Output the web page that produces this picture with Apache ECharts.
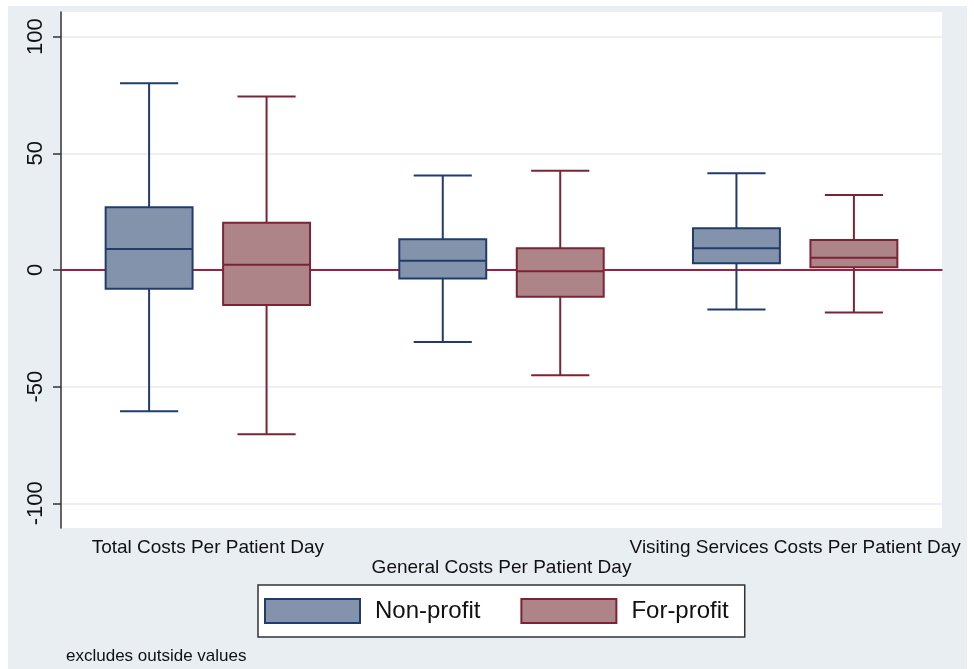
<!DOCTYPE html>
<html>
<head>
<meta charset="utf-8">
<script src="https://cdn.jsdelivr.net/npm/echarts@6/dist/echarts.min.js"></script>
<style>
html, body { margin: 0; padding: 0; background: #fff; }
#chart { width: 974px; height: 669px; }
</style>
</head>
<body>
<div id="chart"></div>
<script>
// categories on the x axis
const categories = [
    "Total Costs Per Patient Day",
    "General Costs Per Patient Day",
    "Visiting Services Costs Per Patient Day"
];
// box values: [min, Q1, median, Q3, max]
const nonProfit = [
    [-60.5, -8.0, 9.0, 26.9, 80.1],
    [-30.9, -3.6, 4.0, 13.2, 40.5],
    [-16.9, 2.9, 9.3, 17.9, 41.5]
];
const forProfit = [
    [-70.4, -15.0, 2.3, 20.3, 74.4],
    [-45.1, -11.5, -0.5, 9.3, 42.5],
    [-18.2, 1.2, 5.3, 12.9, 32.2]
];
const yTicks = [-100, -50, 0, 50, 100];

const FONT = "'Liberation Sans', Arial, sans-serif";
const NP_FILL = "#8393ab", NP_LINE = "#213c6b";
const FP_FILL = "#ad8488", FP_LINE = "#7c2434";

// 画箱线（偏移量按类目带宽的比例）
function boxRenderer(offset, fill, stroke) {
    return function (params, api) {
        let idx = api.value(0);
        let band = api.size([1, 0])[0];
        let cx = api.coord([idx, 0])[0] + offset * band;
        let half = band * 0.148;
        let cap = band * 0.099;
        let y = (i) => api.coord([idx, api.value(i)])[1];
        let yMin = y(1), yQ1 = y(2), yMed = y(3), yQ3 = y(4), yMax = y(5);
        let line = { stroke: stroke, lineWidth: 2 };
        return {
            type: "group",
            children: [
                { type: "line", shape: { x1: cx, y1: yMax, x2: cx, y2: yQ3 }, style: line },
                { type: "line", shape: { x1: cx, y1: yQ1, x2: cx, y2: yMin }, style: line },
                { type: "line", shape: { x1: cx - cap, y1: yMax, x2: cx + cap, y2: yMax }, style: line },
                { type: "line", shape: { x1: cx - cap, y1: yMin, x2: cx + cap, y2: yMin }, style: line },
                {
                    type: "rect",
                    shape: { x: cx - half, y: yQ3, width: half * 2, height: yQ1 - yQ3 },
                    style: { fill: fill, stroke: stroke, lineWidth: 2 }
                },
                { type: "line", shape: { x1: cx - half, y1: yMed, x2: cx + half, y2: yMed }, style: line }
            ]
        };
    };
}

function toData(list) {
    return list.map((v, i) => [i].concat(v));
}

let myChart = echarts.init(document.getElementById("chart"));
myChart.setOption({
    backgroundColor: "#fff",
    animation: false,
    textStyle: { fontFamily: FONT },
    graphic: [
        {
            type: "rect",
            z: -10,
            shape: { x: 8, y: 6, width: 959, height: 663 },
            style: { fill: "#e9eef3" }
        }
    ],
    title: {
        text: "excludes outside values",
        left: 66,
        top: 648,
        padding: 0,
        textStyle: { fontSize: 17, fontWeight: "normal", color: "#111", fontFamily: FONT }
    },
    grid: {
        left: 61,
        right: 32,
        top: 12,
        bottom: 141,
        show: true,
        backgroundColor: "#fff",
        borderWidth: 0
    },
    legend: {
        left: 258,
        top: 585,
        itemWidth: 95,
        itemHeight: 24,
        itemGap: 40,
        padding: [13, 16, 13, 6],
        borderColor: "#333",
        borderWidth: 1.5,
        backgroundColor: "#fff",
        textStyle: { fontSize: 24, color: "#111", fontFamily: FONT, padding: [0, 0, 0, 10] },
        data: [
            { name: "Non-profit", icon: "rect", itemStyle: { color: NP_FILL, borderColor: NP_LINE, borderWidth: 2 } },
            { name: "For-profit", icon: "rect", itemStyle: { color: FP_FILL, borderColor: FP_LINE, borderWidth: 2 } }
        ]
    },
    xAxis: {
        type: "category",
        data: categories,
        axisTick: { show: false },
        axisLine: { lineStyle: { color: "#333", width: 1.5 } },
        axisLabel: {
            interval: 0,
            fontSize: 19,
            color: "#111",
            margin: 10,
            lineHeight: 20,
            fontFamily: FONT,
            formatter: (v, i) => (i === 1 ? "\n" + v : v)
        }
    },
    yAxis: {
        type: "value",
        min: -110.6,
        max: 110.6,
        axisLine: { show: true, lineStyle: { color: "#333", width: 1.5 } },
        axisTick: { show: true, customValues: yTicks, length: 8, lineStyle: { color: "#333", width: 1.5 } },
        axisLabel: { customValues: yTicks, rotate: 90, fontSize: 22, color: "#111", margin: 14, fontFamily: FONT },
        splitLine: { show: true, lineStyle: { color: "#e6eaf0", width: 1.5 } }
    },
    series: [
        {
            name: "Non-profit",
            type: "custom",
            renderItem: boxRenderer(-0.2, NP_FILL, NP_LINE),
            itemStyle: { color: NP_FILL, borderColor: NP_LINE },
            encode: { x: 0, y: [1, 2, 3, 4, 5] },
            data: toData(nonProfit),
            z: 3,
            markLine: {
                silent: true,
                z: 1,
                symbol: ["none", "none"],
                label: { show: false },
                lineStyle: { color: "#9e1f45", width: 2, type: "solid" },
                data: [{ yAxis: 0 }]
            }
        },
        {
            name: "For-profit",
            type: "custom",
            renderItem: boxRenderer(0.2, FP_FILL, FP_LINE),
            itemStyle: { color: FP_FILL, borderColor: FP_LINE },
            encode: { x: 0, y: [1, 2, 3, 4, 5] },
            data: toData(forProfit),
            z: 3
        }
    ]
});
</script>
</body>
</html>
